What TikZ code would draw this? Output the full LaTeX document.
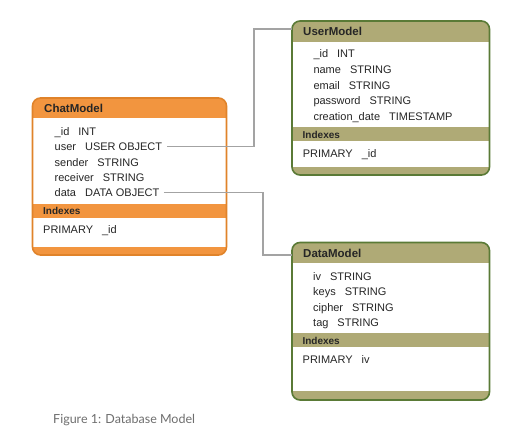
\documentclass[tikz,border=0pt]{standalone}
\usepackage{fontspec}
\setmainfont{Liberation Sans}
\newfontfamily\capfont{Lato}
\definecolor{chathead}{HTML}{F2953F}
\definecolor{chatborder}{HTML}{E0832A}
\definecolor{greenhead}{HTML}{AFAA76}
\definecolor{greenborder}{HTML}{5A7A36}
\definecolor{connline}{HTML}{A3A3A3}
\definecolor{captiongray}{HTML}{6E6E6E}
\tikzset{
  rowtext/.style={anchor=base west, inner sep=0pt, font=\fontsize{11}{13}\selectfont, text height=8pt, text depth=0pt, text=black!85},
  headtext/.style={anchor=base west, inner sep=0pt, font=\bfseries\fontsize{11.5}{13}\selectfont, text=black!85},
  idxtext/.style={anchor=base west, inner sep=0pt, font=\bfseries\fontsize{10}{12}\selectfont, text=black!85},
  frame/.style={anchor=north west, inner sep=0pt, outer sep=0pt, rounded corners=8pt, line width=1.6pt},
  conn/.style={draw=connline, line width=1.4pt},
}
\begin{document}
\begin{tikzpicture}[x=1pt,y=-1pt]
\useasboundingbox (0,0) rectangle (520,444);
\fill[white] (0,0) rectangle (520,444);

% ---------------- ChatModel
\fill[chathead, rounded corners=8pt] (32.5,98) rectangle (226.5,255);
\fill[white] (33.3,118) rectangle (225.7,204);
\fill[white] (33.3,218) rectangle (225.7,247);
\node[frame, draw=chatborder, minimum width=194pt, minimum height=157pt] (cm) at (32.5,98) {};
\node[headtext] (cmh) at (44,113) {ChatModel};
\node[rowtext] (cid) at (54.5,135.7) {\_id\hspace{9pt}INT};
\node[rowtext] (cu) at (54.5,150.7) {user\hspace{9pt}USER OBJECT};
\node[rowtext] (cs) at (54.5,166) {sender\hspace{9pt}STRING};
\node[rowtext] (cr) at (54.5,181.3) {receiver\hspace{9pt}STRING};
\node[rowtext] (cd) at (54.5,196.7) {data\hspace{9pt}DATA OBJECT};
\node[idxtext] (cmi) at (43,214) {Indexes};
\node[rowtext] (cmp) at (43,233) {PRIMARY\hspace{9pt}\_id};

% ---------------- UserModel
\fill[greenhead, rounded corners=8pt] (292,21) rectangle (489.5,175);
\fill[white] (292.8,42) rectangle (488.7,127);
\fill[white] (292.8,141) rectangle (488.7,166.5);
\node[frame, draw=greenborder, minimum width=197.5pt, minimum height=154pt] (um) at (292,21) {};
\node[headtext] (umh) at (303,36) {UserModel};
\node[rowtext] (uid) at (313.3,57.7) {\_id\hspace{9pt}INT};
\node[rowtext] (un) at (313.3,73.5) {name\hspace{9pt}STRING};
\node[rowtext] (ue) at (313.3,89.2) {email\hspace{9pt}STRING};
\node[rowtext] (up) at (313.3,104.9) {password\hspace{9pt}STRING};
\node[rowtext] (uc) at (313.3,120.4) {creation\_date\hspace{9pt}TIMESTAMP};
\node[idxtext] (umi) at (302.5,138.3) {Indexes};
\node[rowtext] (ump) at (302.7,157.3) {PRIMARY\hspace{9pt}\_id};

% ---------------- DataModel
\fill[greenhead, rounded corners=8pt] (292,242.5) rectangle (489.5,400);
\fill[white] (292.8,263) rectangle (488.7,333);
\fill[white] (292.8,347) rectangle (488.7,391);
\node[frame, draw=greenborder, minimum width=197.5pt, minimum height=157.5pt] (dm) at (292,242.5) {};
\node[headtext] (dmh) at (303,257.7) {DataModel};
\node[rowtext] (div) at (313,280.3) {iv\hspace{9pt}STRING};
\node[rowtext] (dk) at (313,295.7) {keys\hspace{9pt}STRING};
\node[rowtext] (dc) at (313,311) {cipher\hspace{9pt}STRING};
\node[rowtext] (dt) at (313,326.7) {tag\hspace{9pt}STRING};
\node[idxtext] (dmi) at (302.3,344) {Indexes};
\node[rowtext] (dmp) at (302.5,363.3) {PRIMARY\hspace{9pt}iv};

% ---------------- connectors
\coordinate (ubend) at (254,29);
\draw[conn] ([xshift=5pt]cu.east) -| (ubend) -- (ubend -| um.west);
\coordinate (dbend) at (263,255);
\draw[conn] ([xshift=4.5pt]cd.east) -| (dbend) -- (dbend -| dm.west);

% ---------------- caption
\node[anchor=base west, inner sep=0pt, font=\capfont\fontsize{12.5}{15}\selectfont, text=captiongray] (cap) at (53,423.5) {Figure 1: Database Model};
\end{tikzpicture}
\end{document}
